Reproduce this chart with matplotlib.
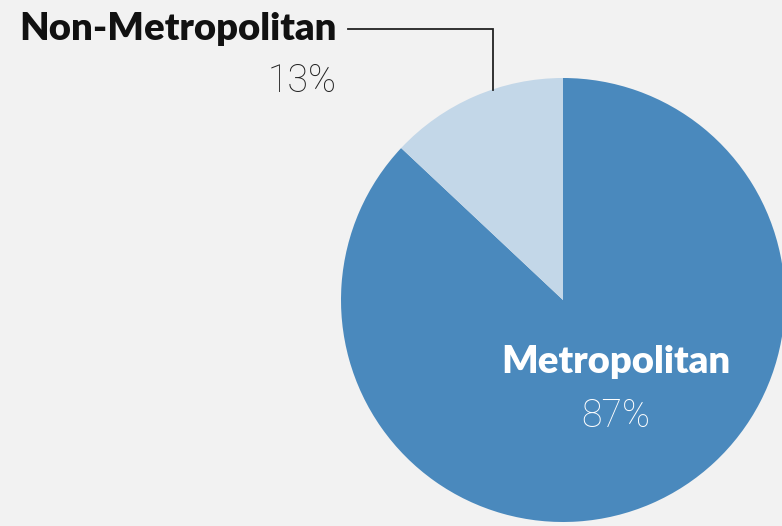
import matplotlib
matplotlib.use("Agg")
import matplotlib.pyplot as plt

# share of population
labels = ["Metropolitan", "Non-Metropolitan"]
shares = [87, 13]
colors = ["#4a89bd", "#c3d7e8"]

W, H = 782, 526
fig = plt.figure(figsize=(W / 100, H / 100), dpi=100, facecolor="#f2f2f2")
ax = fig.add_axes([0, 0, 1, 1])
ax.set_facecolor("#f2f2f2")

# pixel-like coordinates, y measured upward
cx, cy, r = 563, H - 300, 222
ax.pie(shares, colors=colors, startangle=90, counterclock=False,
       center=(cx, cy), radius=r, frame=True,
       wedgeprops=dict(linewidth=0))
ax.set_xlim(0, W)
ax.set_ylim(0, H)
ax.axis("off")

# labels
ax.text(616, H - 362, labels[0], ha="center", va="center", color="white",
        fontsize=27.5, fontweight="heavy", family="Lato")
ax.text(616, H - 416, f"{shares[0]}%", ha="center", va="center", color="white",
        fontsize=27, fontweight="light", family="Roboto")

ax.text(337, H - 29, labels[1], ha="right", va="center", color="#111111",
        fontsize=27.5, fontweight="heavy", family="Lato")
ax.text(337, H - 81, f"{shares[1]}%", ha="right", va="center", color="#222222",
        fontsize=27, fontweight="light", family="Roboto")

# leader line
ax.plot([348, 493, 493], [H - 29, H - 29, H - 90], color="#222222", lw=1.3,
        solid_joinstyle="miter")

fig.savefig("out.png", dpi=100, facecolor=fig.get_facecolor())
